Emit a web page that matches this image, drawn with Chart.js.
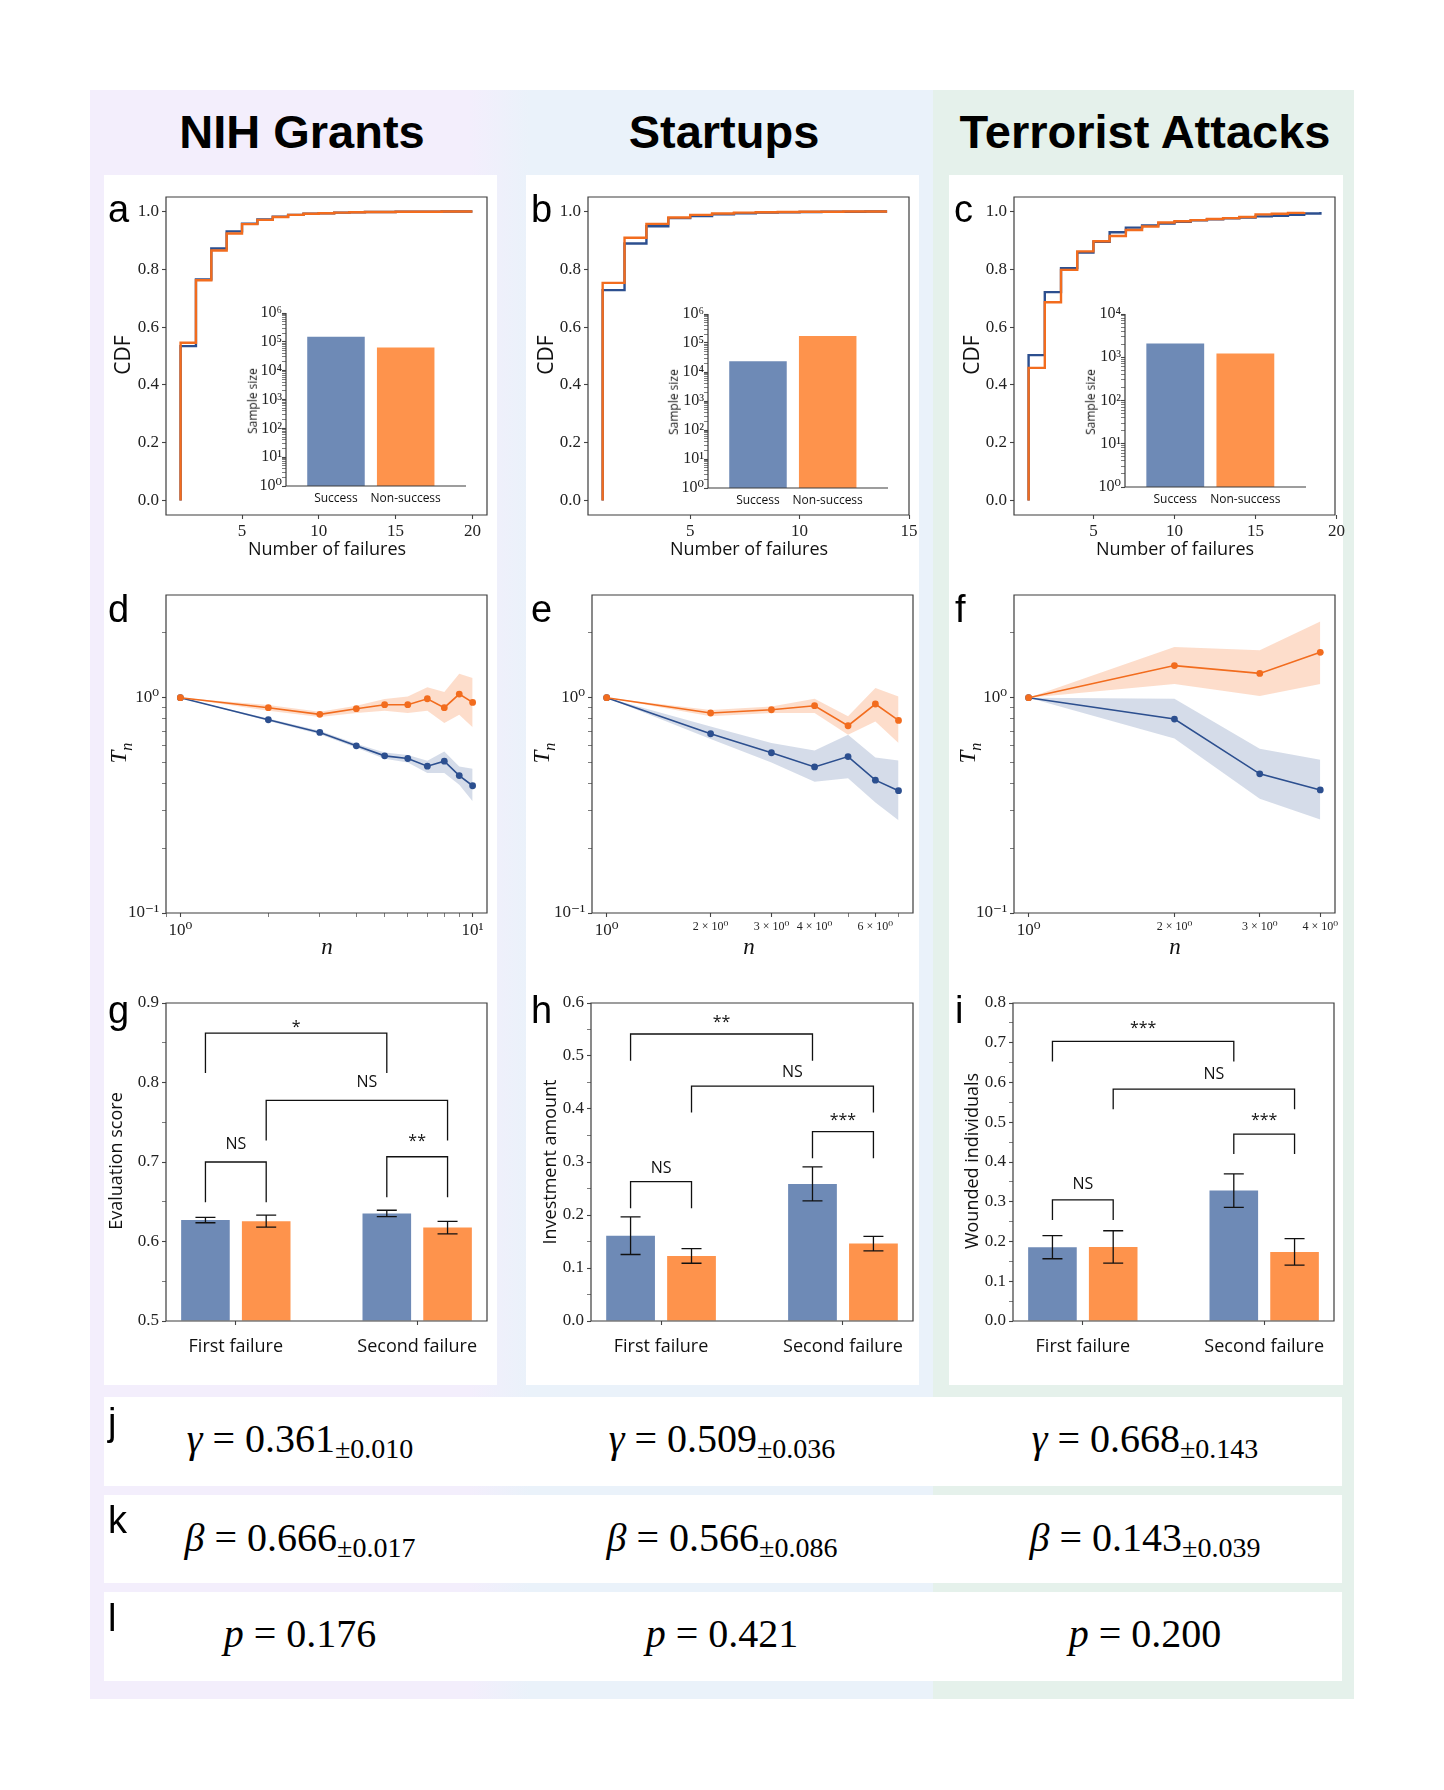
<!DOCTYPE html>
<html>
<head>
<meta charset="utf-8">
<title>Failure dynamics</title>
<script src="https://cdn.jsdelivr.net/npm/chart.js@4.4.1/dist/chart.umd.min.js"></script>
<style>
  body { margin: 0; background: #fff; }
  #page { position: relative; width: 1444px; height: 1790px; overflow: hidden; }
  #page > * { position: absolute; }
  #bg { left: 90px; top: 90px; width: 1264px; height: 1609px;
        background: linear-gradient(to right, #f3eefc 0px, #f3eefc 380px, #eaf2fa 440px, #eaf2fa 843px, #e5f1eb 843px); }
  .card { background: #fff; }
  .title { font: bold 47px "Liberation Sans", sans-serif; line-height: 1; white-space: nowrap; transform: translate(-50%, -50%); color: #000; }
  .letter { font: 38px "Liberation Sans", sans-serif; line-height: 38px; color: #000; }
  .lab { font: 18px "Open Sans", sans-serif; white-space: nowrap; transform: translate(-50%, -50%); color: #111; line-height: 1.2; }
  .lab.big { font-size: 21px; }
  .lab.small { font-size: 12px; }
  .lab.rot { transform: translate(-50%, -50%) rotate(-90deg); }
  .lab.math { font: 23px "Liberation Serif", serif; }
  .lab.math sub { font-size: 70%; }
  .eq { font: 40px "Liberation Serif", serif; line-height: 40px; white-space: nowrap; transform: translateX(-50%); color: #000; }
  .eq sub { font-size: 28px; vertical-align: baseline; position: relative; top: 6px; }
</style>
</head>
<body>
<div id="page">
  <div id="bg"></div>
  <div class="card" style="left:104px;top:175px;width:393px;height:1210px"></div>
  <div class="card" style="left:526px;top:175px;width:393px;height:1210px"></div>
  <div class="card" style="left:949px;top:175px;width:394px;height:1210px"></div>
  <div class="card" style="left:104px;top:1397px;width:1238px;height:89px"></div>
  <div class="card" style="left:104px;top:1495px;width:1238px;height:88px"></div>
  <div class="card" style="left:104px;top:1592px;width:1238px;height:89px"></div>
  <div class="title" style="left:302px;top:131px">NIH Grants</div>
  <div class="title" style="left:724px;top:131px">Startups</div>
  <div class="title" style="left:1145px;top:131px">Terrorist Attacks</div>
</div>
<script>
// ---------- data ----------
// a-c: CDF of the number of failures (index 0 = 1 failure)
const cdfNihSuccess = [0.534, 0.765, 0.872, 0.931, 0.958, 0.972, 0.982, 0.988, 0.992, 0.994, 0.996, 0.997, 0.998, 0.998, 0.999, 0.999, 0.999, 1.0, 1.0, 1.0];
const cdfNihNon     = [0.546, 0.762, 0.865, 0.924, 0.956, 0.971, 0.981, 0.988, 0.992, 0.994, 0.996, 0.997, 0.998, 0.998, 0.999, 0.999, 0.999, 1.0, 1.0, 1.0];
const cdfStartSuccess = [0.728, 0.889, 0.949, 0.977, 0.984, 0.990, 0.994, 0.996, 0.997, 0.998, 0.999, 0.999, 1.0, 1.0];
const cdfStartNon     = [0.753, 0.909, 0.957, 0.979, 0.988, 0.993, 0.996, 0.997, 0.998, 0.999, 0.999, 1.0, 1.0, 1.0];
const cdfTerrSuccess = [0.503, 0.721, 0.804, 0.858, 0.895, 0.928, 0.944, 0.952, 0.958, 0.964, 0.969, 0.973, 0.976, 0.979, 0.983, 0.985, 0.988, 0.993, 0.998];
const cdfTerrNon     = [0.459, 0.686, 0.798, 0.862, 0.897, 0.915, 0.936, 0.948, 0.962, 0.966, 0.970, 0.974, 0.977, 0.981, 0.990, 0.992, 0.995, 0.998];
const cdfYTicks = [0, 0.2, 0.4, 0.6, 0.8, 1.0];
const cdfXTicksNih = [5, 10, 15, 20];
const cdfXTicksStart = [5, 10, 15];
const cdfXTicksTerr = [5, 10, 15, 20];

// insets: sample sizes
const sampleLabels = ['Success', 'Non-success'];
const sampleNih = [150000, 63000];
const sampleStart = [23600, 173000];
const sampleTerr = [2090, 1225];

// d-f: T_n with confidence band
const nNih = [1, 2, 3, 4, 5, 6, 7, 8, 9, 10];
const tnNihSuccess   = [1.0, 0.79, 0.69, 0.598, 0.537, 0.522, 0.481, 0.507, 0.435, 0.39];
const tnNihSuccessLo = [1.0, 0.78, 0.677, 0.585, 0.52, 0.50, 0.447, 0.447, 0.394, 0.33];
const tnNihSuccessHi = [1.0, 0.80, 0.703, 0.612, 0.556, 0.542, 0.51, 0.563, 0.479, 0.468];
const tnNihNon   = [1.0, 0.899, 0.837, 0.889, 0.928, 0.928, 0.989, 0.899, 1.04, 0.951];
const tnNihNonLo = [1.0, 0.87, 0.813, 0.849, 0.87, 0.849, 0.87, 0.763, 0.833, 0.73];
const tnNihNonHi = [1.0, 0.925, 0.861, 0.918, 0.986, 1.014, 1.117, 1.063, 1.293, 1.235];

const nStart = [1, 2, 3, 4, 5, 6, 7];
const tnStartSuccess   = [1.0, 0.68, 0.555, 0.477, 0.533, 0.414, 0.37];
const tnStartSuccessLo = [1.0, 0.643, 0.5, 0.407, 0.423, 0.326, 0.27];
const tnStartSuccessHi = [1.0, 0.735, 0.616, 0.569, 0.673, 0.528, 0.511];
const tnStartNon   = [1.0, 0.849, 0.879, 0.918, 0.741, 0.935, 0.784];
const tnStartNonLo = [1.0, 0.82, 0.85, 0.849, 0.673, 0.776, 0.616];
const tnStartNonHi = [1.0, 0.878, 0.91, 0.99, 0.82, 1.11, 1.014];

const nTerr = [1, 2, 3, 4];
const tnTerrSuccess   = [1.0, 0.796, 0.443, 0.373];
const tnTerrSuccessLo = [1.0, 0.647, 0.339, 0.272];
const tnTerrSuccessHi = [1.0, 0.99, 0.579, 0.515];
const tnTerrNon   = [1.0, 1.41, 1.297, 1.625];
const tnTerrNonLo = [1.0, 1.158, 1.018, 1.158];
const tnTerrNonHi = [1.0, 1.72, 1.66, 2.26];

const tnYTicks = [0.1, 1];
const tnYLabels = ['10⁻¹', '10⁰'];
const tnXTicksNih = [1, 10];
const tnXLabelsNih = ['10⁰', '10¹'];
const tnXTicksStart = [1, 2, 3, 4, 6];
const tnXLabelsStart = ['10⁰', '2 × 10⁰', '3 × 10⁰', '4 × 10⁰', '6 × 10⁰'];
const tnXTicksTerr = [1, 2, 3, 4];
const tnXLabelsTerr = ['10⁰', '2 × 10⁰', '3 × 10⁰', '4 × 10⁰'];

// g-i: first / second failure
const failureLabels = ['First failure', 'Second failure'];
const evalSuccess = [0.627, 0.6353];
const evalSuccessErr = [0.0034, 0.004];
const evalNon = [0.6256, 0.6175];
const evalNonErr = [0.0076, 0.0078];
const evalTicks = [0.5, 0.6, 0.7, 0.8, 0.9];

const investSuccess = [0.161, 0.2587];
const investSuccessErr = [0.0355, 0.032];
const investNon = [0.1228, 0.146];
const investNonErr = [0.0138, 0.0136];
const investTicks = [0.0, 0.1, 0.2, 0.3, 0.4, 0.5, 0.6];

const woundSuccess = [0.1856, 0.328];
const woundSuccessErr = [0.029, 0.042];
const woundNon = [0.1864, 0.1738];
const woundNonErr = [0.0407, 0.0333];
const woundTicks = [0.0, 0.1, 0.2, 0.3, 0.4, 0.5, 0.6, 0.7, 0.8];

// significance brackets: from/to = [dataset, bar]
const bracketsEval = [
  {from: [0, 0], to: [0, 1], top: 0.862, legs: [0.812, 0.812], text: '*', ty: 0.877},
  {from: [1, 0], to: [1, 1], top: 0.7775, legs: [0.727, 0.727], text: 'NS', ty: 0.8014, dx: 10},
  {from: [0, 0], to: [1, 0], top: 0.70, legs: [0.6495, 0.6495], text: 'NS', ty: 0.7238},
  {from: [0, 1], to: [1, 1], top: 0.7066, legs: [0.6558, 0.6558], text: '**', ty: 0.7343}
];
const bracketsInvest = [
  {from: [0, 0], to: [0, 1], top: 0.5415, legs: [0.491, 0.491], text: '**', ty: 0.575},
  {from: [1, 0], to: [1, 1], top: 0.4433, legs: [0.3934, 0.3934], text: 'NS', ty: 0.472, dx: 10},
  {from: [0, 0], to: [1, 0], top: 0.263, legs: [0.2128, 0.2128], text: 'NS', ty: 0.291},
  {from: [0, 1], to: [1, 1], top: 0.3575, legs: [0.307, 0.307], text: '***', ty: 0.391}
];
const bracketsWound = [
  {from: [0, 0], to: [0, 1], top: 0.7034, legs: [0.653, 0.653], text: '***', ty: 0.752},
  {from: [1, 0], to: [1, 1], top: 0.5835, legs: [0.533, 0.533], text: 'NS', ty: 0.625, dx: 10},
  {from: [0, 0], to: [1, 0], top: 0.3047, legs: [0.2543, 0.2543], text: 'NS', ty: 0.3468},
  {from: [0, 1], to: [1, 1], top: 0.470, legs: [0.42, 0.42], text: '***', ty: 0.521}
];

// j-l: fitted parameters per column
const gammaVal = [0.361, 0.509, 0.668];
const gammaErr = [0.010, 0.036, 0.143];
const betaVal = [0.666, 0.566, 0.143];
const betaErr = [0.017, 0.086, 0.039];
const pVal = [0.176, 0.421, 0.200];

// ---------- styles ----------
const SERIF = '"Liberation Serif", "DejaVu Serif", serif';
const SANS = '"Open Sans", "Liberation Sans", sans-serif';
const BLUE = '#2c4f8f', ORANGE = '#f26c1e';
const BAR_BLUE = '#6e8ab6', BAR_ORANGE = '#fe934c';
const BAND_BLUE = 'rgba(44,79,143,0.2)', BAND_ORANGE = 'rgba(245,110,30,0.23)';
const tickFont = {family: SERIF, size: 17};

Chart.defaults.animation = false;
Chart.defaults.responsive = false;
Chart.defaults.events = [];
Chart.defaults.font.family = SERIF;
Chart.defaults.color = '#222';
Chart.defaults.plugins.legend.display = false;
Chart.defaults.plugins.tooltip.enabled = false;

// spines, error bars and brackets
Chart.register({
  id: 'extras',
  afterDatasetsDraw(chart, args, o) {
    const ctx = chart.ctx, y = chart.scales.y;
    ctx.save();
    ctx.strokeStyle = '#111';
    ctx.lineWidth = 1.3;
    (o.err || []).forEach((errs, ds) => {
      chart.getDatasetMeta(ds).data.forEach((bar, i) => {
        const v = chart.data.datasets[ds].data[i].y;
        const lo = y.getPixelForValue(v - errs[i]), hi = y.getPixelForValue(v + errs[i]);
        ctx.beginPath();
        ctx.moveTo(bar.x, lo); ctx.lineTo(bar.x, hi);
        ctx.moveTo(bar.x - 10, lo); ctx.lineTo(bar.x + 10, lo);
        ctx.moveTo(bar.x - 10, hi); ctx.lineTo(bar.x + 10, hi);
        ctx.stroke();
      });
    });
    ctx.fillStyle = '#111';
    ctx.textAlign = 'center';
    ctx.textBaseline = 'alphabetic';
    ctx.font = '16px ' + SANS;
    (o.brackets || []).forEach(b => {
      const xa = chart.getDatasetMeta(b.from[0]).data[b.from[1]].x;
      const xb = chart.getDatasetMeta(b.to[0]).data[b.to[1]].x;
      const yt = y.getPixelForValue(b.top);
      ctx.beginPath();
      ctx.moveTo(xa, y.getPixelForValue(b.legs[0]));
      ctx.lineTo(xa, yt);
      ctx.lineTo(xb, yt);
      ctx.lineTo(xb, y.getPixelForValue(b.legs[1]));
      ctx.stroke();
      const shift = b.text.includes('*') ? 11 : 6;
      ctx.fillText(b.text, (xa + xb) / 2 + (b.dx || 0), y.getPixelForValue(b.ty) + shift);
    });
    ctx.restore();
  },
  afterDraw(chart, args, o) {
    if (!o.sides) return;
    const {ctx, chartArea: a} = chart;
    ctx.save();
    ctx.strokeStyle = '#3d3d3d';
    ctx.lineWidth = 1.2;
    ctx.beginPath();
    if (o.sides === 'box') {
      ctx.rect(a.left, a.top, a.right - a.left, a.bottom - a.top);
    } else {
      ctx.moveTo(a.left, a.top); ctx.lineTo(a.left, a.bottom); ctx.lineTo(a.right, a.bottom);
    }
    ctx.stroke();
    ctx.restore();
  }
});

// ---------- helpers ----------
const M = {l: 62, r: 24, t: 12, b: 44};
const IM = {l: 46, r: 8, t: 12, b: 26};
const SUP = {'0': '⁰', '1': '¹', '2': '²', '3': '³', '4': '⁴', '5': '⁵', '6': '⁶', '-': '⁻'};
const pow10Label = e => '10' + String(e).split('').map(ch => SUP[ch]).join('');

function canvasAt(box, m) {
  const c = document.createElement('canvas');
  c.width = box.r - box.l + m.l + m.r;
  c.height = box.b - box.t + m.t + m.b;
  c.style.left = (box.l - m.l) + 'px';
  c.style.top = (box.t - m.t) + 'px';
  document.getElementById('page').appendChild(c);
  return c;
}

function linTicks(vals, digits, minorStep) {
  const out = vals.map(v => ({v, label: digits == null ? String(v) : v.toFixed(digits)}));
  if (minorStep) {
    for (let i = 0; i < vals.length - 1; i++) out.push({v: vals[i] + minorStep, label: '', minor: true});
  }
  return out;
}

function logTicks(major, labels, min, max) {
  const out = major.map((v, i) => ({v, label: labels[i], small: labels[i].includes('×')}));
  for (let e = Math.floor(Math.log10(min)); e <= Math.ceil(Math.log10(max)); e++) {
    for (let k = 2; k <= 9; k++) {
      const v = k * Math.pow(10, e);
      if (v > min * 1.001 && v < max * 0.999 && !major.some(m => Math.abs(m - v) < 1e-9)) out.push({v, label: '', minor: true});
    }
  }
  return out.sort((a, b) => a.v - b.v);
}

function axis(dir, type, min, max, ticks, m, font, extra) {
  const cfg = {
    type, min, max, offset: false,
    border: {display: false},
    grid: {display: true, offset: false, drawOnChartArea: false, drawTicks: true, tickLength: 4,
           tickColor: c => (c.tick && c.tick.hide) ? 'rgba(0,0,0,0)' : '#444',
           tickWidth: c => (c.tick && c.tick.minor) ? 0.7 : 1.1},
    ticks: {autoSkip: false, maxRotation: 0, minRotation: 0, padding: 3, color: '#222',
            font: c => (c.tick && c.tick.small) ? {family: SERIF, size: 12} : font,
            callback: (v, i, t) => t[i].text},
    afterBuildTicks: s => {
      s.ticks = ticks.map(t => ({value: t.v, text: t.label, minor: !!t.minor, small: !!t.small, hide: !!t.hide}));
    },
    afterFit: dir === 'x'
      ? s => { s.height = m.b; s.paddingLeft = 0; s.paddingRight = 0; }
      : s => { s.width = m.l; s.paddingTop = 0; s.paddingBottom = 0; }
  };
  if (extra) Object.assign(cfg.ticks, extra);
  return cfg;
}

function opts(m, sides, scales, extra) {
  return {
    devicePixelRatio: 1,
    layout: {padding: {left: 0, right: m.r, top: m.t, bottom: 0}},
    scales,
    plugins: {extras: Object.assign({sides}, extra || {})}
  };
}

function cdfChart(box, success, non, xMin, xMax, xTicks) {
  const steps = vals => [{x: 1, y: 0}].concat(vals.map((v, i) => ({x: i + 1, y: v})));
  new Chart(canvasAt(box, M), {
    type: 'line',
    data: {datasets: [
      {data: steps(non), borderColor: ORANGE, borderWidth: 2.4, pointRadius: 0, stepped: true, fill: false},
      {data: steps(success), borderColor: BLUE, borderWidth: 2.4, pointRadius: 0, stepped: true, fill: false}
    ]},
    options: opts(M, 'box', {
      x: axis('x', 'linear', xMin, xMax, linTicks(xTicks, null), M, tickFont, {padding: 2}),
      y: axis('y', 'linear', -0.05, 1.05, linTicks(cdfYTicks, 1), M, tickFont)
    })
  });
}

function insetChart(box, sizes, maxExp) {
  const majors = [], labels = [];
  for (let e = 0; e <= maxExp; e++) { majors.push(Math.pow(10, e)); labels.push(pow10Label(e)); }
  new Chart(canvasAt(box, IM), {
    type: 'bar',
    data: {datasets: [{
      data: sizes.map((v, i) => ({x: i, y: v})),
      backgroundColor: [BAR_BLUE, BAR_ORANGE], borderWidth: 0,
      categoryPercentage: 1, barPercentage: 0.825
    }]},
    options: opts(IM, 'lb', {
      x: axis('x', 'linear', -0.717, 1.865, sampleLabels.map((s, i) => ({v: i, label: s, hide: true})), IM,
              {family: SANS, size: 12}, {color: '#111', padding: 1}),
      y: axis('y', 'logarithmic', 1, Math.pow(10, maxExp), logTicks(majors, labels, 1, Math.pow(10, maxExp)), IM,
              {family: SERIF, size: 16}, {padding: 0})
    })
  });
}

function tnChart(box, s, xMin, xMax, xTicks, xLabels) {
  const pts = arr => arr.map((v, i) => ({x: s.n[i], y: v}));
  const band = (arr, fill, color) => ({data: pts(arr), pointRadius: 0, borderWidth: 0, fill, backgroundColor: color});
  const line = (arr, color) => ({data: pts(arr), borderColor: color, backgroundColor: color, borderWidth: 1.6,
                                 pointRadius: 3.4, pointBorderWidth: 0, fill: false});
  new Chart(canvasAt(box, M), {
    type: 'line',
    data: {datasets: [
      line(s.non, ORANGE),
      line(s.succ, BLUE),
      band(s.nonLo, false, BAND_ORANGE), band(s.nonHi, '-1', BAND_ORANGE),
      band(s.succLo, false, BAND_BLUE), band(s.succHi, '-1', BAND_BLUE)
    ]},
    options: opts(M, 'box', {
      x: axis('x', 'logarithmic', xMin, xMax, logTicks(xTicks, xLabels, xMin, xMax), M, tickFont),
      y: axis('y', 'logarithmic', 0.1, 3.0, logTicks(tnYTicks, tnYLabels, 0.1, 2.5), M, tickFont)
    })
  });
}

function barChart(box, yTicks, succ, succErr, non, nonErr, brackets) {
  const yMin = yTicks[0], yMax = yTicks[yTicks.length - 1];
  const ds = (vals, color) => ({data: vals.map((v, i) => ({x: i, y: v})), backgroundColor: color, borderWidth: 0,
                                base: yMin, categoryPercentage: 0.67, barPercentage: 0.8});
  new Chart(canvasAt(box, M), {
    type: 'bar',
    data: {datasets: [ds(succ, BAR_BLUE), ds(non, BAR_ORANGE)]},
    options: opts(M, 'box', {
      x: axis('x', 'linear', -0.385, 1.385, failureLabels.map((s, i) => ({v: i, label: s})), M,
              {family: SANS, size: 18}, {color: '#111', padding: 11}),
      y: axis('y', 'linear', yMin, yMax, linTicks(yTicks, 1, 0.05), M, tickFont)
    }, {err: [succErr, nonErr], brackets})
  });
}

// ---------- charts ----------
cdfChart({l: 166, r: 487, t: 197, b: 515}, cdfNihSuccess, cdfNihNon, 0.05, 20.95, cdfXTicksNih);
cdfChart({l: 588, r: 909, t: 197, b: 515}, cdfStartSuccess, cdfStartNon, 0.33, 15.0, cdfXTicksStart);
cdfChart({l: 1014, r: 1335, t: 197, b: 515}, cdfTerrSuccess, cdfTerrNon, 0.1, 19.9, cdfXTicksTerr);

insetChart({l: 286, r: 466, t: 313, b: 486}, sampleNih, 6);
insetChart({l: 708, r: 888, t: 314, b: 488}, sampleStart, 6);
insetChart({l: 1125, r: 1306, t: 314, b: 487}, sampleTerr, 4);

tnChart({l: 166, r: 487, t: 595, b: 913},
  {n: nNih, succ: tnNihSuccess, succLo: tnNihSuccessLo, succHi: tnNihSuccessHi, non: tnNihNon, nonLo: tnNihNonLo, nonHi: tnNihNonHi},
  0.893, 11.2, tnXTicksNih, tnXLabelsNih);
tnChart({l: 592, r: 913, t: 595, b: 913},
  {n: nStart, succ: tnStartSuccess, succLo: tnStartSuccessLo, succHi: tnStartSuccessHi, non: tnStartNon, nonLo: tnStartNonLo, nonHi: tnStartNonHi},
  0.907, 7.71, tnXTicksStart, tnXLabelsStart);
tnChart({l: 1014, r: 1335, t: 595, b: 913},
  {n: nTerr, succ: tnTerrSuccess, succLo: tnTerrSuccessLo, succHi: tnTerrSuccessHi, non: tnTerrNon, nonLo: tnTerrNonLo, nonHi: tnTerrNonHi},
  0.933, 4.29, tnXTicksTerr, tnXLabelsTerr);

barChart({l: 166, r: 487, t: 1003, b: 1321}, evalTicks, evalSuccess, evalSuccessErr, evalNon, evalNonErr, bracketsEval);
barChart({l: 591, r: 913, t: 1003, b: 1321}, investTicks, investSuccess, investSuccessErr, investNon, investNonErr, bracketsInvest);
barChart({l: 1013, r: 1334, t: 1003, b: 1321}, woundTicks, woundSuccess, woundSuccessErr, woundNon, woundNonErr, bracketsWound);

// ---------- text ----------
const page = document.getElementById('page');
function addDiv(cls, html, left, top) {
  const d = document.createElement('div');
  d.className = cls;
  d.innerHTML = html;
  d.style.left = left + 'px';
  d.style.top = top + 'px';
  page.appendChild(d);
}
[['a', 108, 190], ['b', 531, 190], ['c', 954, 190],
 ['d', 108, 590], ['e', 531, 590], ['f', 955, 590],
 ['g', 108, 991], ['h', 531, 991], ['i', 955, 991],
 ['j', 108, 1403], ['k', 108, 1501], ['l', 108, 1599]].forEach(l => addDiv('letter', l[0], l[1], l[2]));

const colX = [123, 546, 972], colMid = [327, 749, 1175];
colX.forEach((x, i) => {
  addDiv('lab rot big', 'CDF', x, 355);
  addDiv('lab', 'Number of failures', colMid[i], 549);
  addDiv('lab math rot', '<i>T</i><sub><i>n</i></sub>', x - 2, 753);
  addDiv('lab math', '<i>n</i>', colMid[i], 947);
});
[[253, 401], [674, 402], [1091, 402]].forEach(p => addDiv('lab rot small', 'Sample size', p[0], p[1]));
addDiv('lab rot', 'Evaluation score', 116, 1161);
addDiv('lab rot', 'Investment amount', 550, 1162);
addDiv('lab rot', 'Wounded individuals', 972, 1161);

const eqX = [300, 722, 1145];
eqX.forEach((x, i) => {
  addDiv('eq', '<i>γ</i> = ' + gammaVal[i].toFixed(3) + '<sub>±' + gammaErr[i].toFixed(3) + '</sub>', x, 1419);
  addDiv('eq', '<i>β</i> = ' + betaVal[i].toFixed(3) + '<sub>±' + betaErr[i].toFixed(3) + '</sub>', x, 1518);
  addDiv('eq', '<i>p</i> = ' + pVal[i].toFixed(3), x, 1614);
});
</script>
</body>
</html>
